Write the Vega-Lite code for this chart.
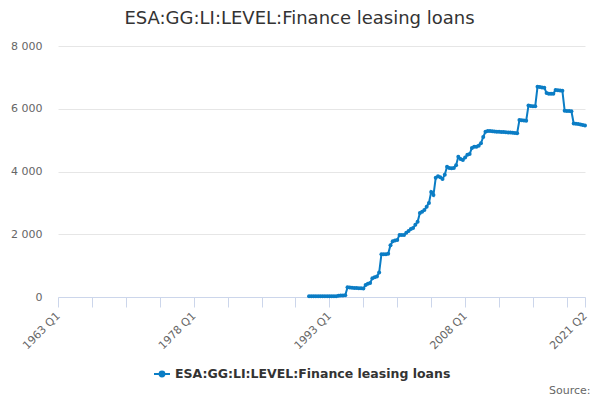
{
  "$schema": "https://vega.github.io/schema/vega-lite/v6.json",
  "width": 527,
  "height": 251,
  "autosize": "none",
  "padding": {"left": 58, "top": 46, "right": 15, "bottom": 103},
  "background": "white",

  "title": {
    "text": "ESA:GG:LI:LEVEL:Finance leasing loans",
    "font": "DejaVu Sans",
    "fontSize": 18,
    "fontWeight": "normal",
    "color": "#333333",
    "anchor": "middle",
    "dx": -22,
    "offset": 12
  },

  "data": {
    "values": [
      {"date": "1990-10-01", "value": 20},
      {"date": "1991-01-01", "value": 20}, {"date": "1991-04-01", "value": 20}, {"date": "1991-07-01", "value": 20}, {"date": "1991-10-01", "value": 20},
      {"date": "1992-01-01", "value": 20}, {"date": "1992-04-01", "value": 20}, {"date": "1992-07-01", "value": 20}, {"date": "1992-10-01", "value": 20},
      {"date": "1993-01-01", "value": 25}, {"date": "1993-04-01", "value": 25}, {"date": "1993-07-01", "value": 25}, {"date": "1993-10-01", "value": 25},
      {"date": "1994-01-01", "value": 40}, {"date": "1994-04-01", "value": 45}, {"date": "1994-07-01", "value": 50}, {"date": "1994-10-01", "value": 55},
      {"date": "1995-01-01", "value": 310}, {"date": "1995-04-01", "value": 300}, {"date": "1995-07-01", "value": 295}, {"date": "1995-10-01", "value": 290},
      {"date": "1996-01-01", "value": 285}, {"date": "1996-04-01", "value": 280}, {"date": "1996-07-01", "value": 275}, {"date": "1996-10-01", "value": 270},
      {"date": "1997-01-01", "value": 380}, {"date": "1997-04-01", "value": 420}, {"date": "1997-07-01", "value": 450}, {"date": "1997-10-01", "value": 600},
      {"date": "1998-01-01", "value": 630}, {"date": "1998-04-01", "value": 650}, {"date": "1998-07-01", "value": 780}, {"date": "1998-10-01", "value": 1360},
      {"date": "1999-01-01", "value": 1360}, {"date": "1999-04-01", "value": 1365}, {"date": "1999-07-01", "value": 1380}, {"date": "1999-10-01", "value": 1650},
      {"date": "2000-01-01", "value": 1780}, {"date": "2000-04-01", "value": 1800}, {"date": "2000-07-01", "value": 1820}, {"date": "2000-10-01", "value": 1980},
      {"date": "2001-01-01", "value": 1976}, {"date": "2001-04-01", "value": 1980}, {"date": "2001-07-01", "value": 2050}, {"date": "2001-10-01", "value": 2100},
      {"date": "2002-01-01", "value": 2170}, {"date": "2002-04-01", "value": 2200}, {"date": "2002-07-01", "value": 2300}, {"date": "2002-10-01", "value": 2400},
      {"date": "2003-01-01", "value": 2680}, {"date": "2003-04-01", "value": 2720}, {"date": "2003-07-01", "value": 2770}, {"date": "2003-10-01", "value": 2880},
      {"date": "2004-01-01", "value": 3000}, {"date": "2004-04-01", "value": 3350}, {"date": "2004-07-01", "value": 3250}, {"date": "2004-10-01", "value": 3800},
      {"date": "2005-01-01", "value": 3850}, {"date": "2005-04-01", "value": 3820}, {"date": "2005-07-01", "value": 3760}, {"date": "2005-10-01", "value": 3900},
      {"date": "2006-01-01", "value": 4150}, {"date": "2006-04-01", "value": 4110}, {"date": "2006-07-01", "value": 4100}, {"date": "2006-10-01", "value": 4110},
      {"date": "2007-01-01", "value": 4200}, {"date": "2007-04-01", "value": 4470}, {"date": "2007-07-01", "value": 4400}, {"date": "2007-10-01", "value": 4366},
      {"date": "2008-01-01", "value": 4450}, {"date": "2008-04-01", "value": 4530}, {"date": "2008-07-01", "value": 4560}, {"date": "2008-10-01", "value": 4750},
      {"date": "2009-01-01", "value": 4790}, {"date": "2009-04-01", "value": 4790}, {"date": "2009-07-01", "value": 4820}, {"date": "2009-10-01", "value": 4900},
      {"date": "2010-01-01", "value": 5100}, {"date": "2010-04-01", "value": 5268}, {"date": "2010-07-01", "value": 5290}, {"date": "2010-10-01", "value": 5290},
      {"date": "2011-01-01", "value": 5280}, {"date": "2011-04-01", "value": 5275}, {"date": "2011-07-01", "value": 5270}, {"date": "2011-10-01", "value": 5265},
      {"date": "2012-01-01", "value": 5260}, {"date": "2012-04-01", "value": 5255}, {"date": "2012-07-01", "value": 5250}, {"date": "2012-10-01", "value": 5245},
      {"date": "2013-01-01", "value": 5240}, {"date": "2013-04-01", "value": 5235}, {"date": "2013-07-01", "value": 5230}, {"date": "2013-10-01", "value": 5220},
      {"date": "2014-01-01", "value": 5640}, {"date": "2014-04-01", "value": 5630}, {"date": "2014-07-01", "value": 5625}, {"date": "2014-10-01", "value": 5620},
      {"date": "2015-01-01", "value": 6100}, {"date": "2015-04-01", "value": 6090}, {"date": "2015-07-01", "value": 6080}, {"date": "2015-10-01", "value": 6080},
      {"date": "2016-01-01", "value": 6700}, {"date": "2016-04-01", "value": 6690}, {"date": "2016-07-01", "value": 6680}, {"date": "2016-10-01", "value": 6670},
      {"date": "2017-01-01", "value": 6500}, {"date": "2017-04-01", "value": 6480}, {"date": "2017-07-01", "value": 6480}, {"date": "2017-10-01", "value": 6480},
      {"date": "2018-01-01", "value": 6600}, {"date": "2018-04-01", "value": 6590}, {"date": "2018-07-01", "value": 6580}, {"date": "2018-10-01", "value": 6570},
      {"date": "2019-01-01", "value": 5940}, {"date": "2019-04-01", "value": 5930}, {"date": "2019-07-01", "value": 5930}, {"date": "2019-10-01", "value": 5920},
      {"date": "2020-01-01", "value": 5530}, {"date": "2020-04-01", "value": 5520}, {"date": "2020-07-01", "value": 5510}, {"date": "2020-10-01", "value": 5500},
      {"date": "2021-01-01", "value": 5480}, {"date": "2021-04-01", "value": 5470}
    ]
  },

  "mark": {
    "type": "line",
    "strokeWidth": 2,
    "point": {"filled": true, "size": 16}
  },

  "encoding": {
    "x": {
      "field": "date",
      "type": "temporal",
      "scale": {
        "type": "utc",
        "domain": [
          {"year": 1963, "month": 1, "date": 1, "utc": true},
          {"year": 2021, "month": 4, "date": 1, "utc": true}
        ]
      },
      "axis": {
        "values": [
          {"year": 1963, "month": 1, "date": 1, "utc": true},
          {"year": 1966, "month": 10, "date": 1, "utc": true},
          {"year": 1970, "month": 7, "date": 1, "utc": true},
          {"year": 1974, "month": 4, "date": 1, "utc": true},
          {"year": 1978, "month": 1, "date": 1, "utc": true},
          {"year": 1981, "month": 10, "date": 1, "utc": true},
          {"year": 1985, "month": 7, "date": 1, "utc": true},
          {"year": 1989, "month": 4, "date": 1, "utc": true},
          {"year": 1993, "month": 1, "date": 1, "utc": true},
          {"year": 1996, "month": 10, "date": 1, "utc": true},
          {"year": 2000, "month": 7, "date": 1, "utc": true},
          {"year": 2004, "month": 4, "date": 1, "utc": true},
          {"year": 2008, "month": 1, "date": 1, "utc": true},
          {"year": 2011, "month": 10, "date": 1, "utc": true},
          {"year": 2015, "month": 7, "date": 1, "utc": true},
          {"year": 2019, "month": 4, "date": 1, "utc": true},
          {"year": 2021, "month": 4, "date": 1, "utc": true}
        ],
        "labelExpr": "indexof(['1963 Q1', '1978 Q1', '1993 Q1', '2008 Q1', '2021 Q2'], utcFormat(datum.value, '%Y Q%q')) >= 0 ? utcFormat(datum.value, '%Y Q%q') : ''",
        "labelAngle": -45,
        "labelAlign": "right",
        "labelBaseline": "middle",
        "labelPadding": 7,
        "labelColor": "#666666",
        "labelFontSize": 11,
        "labelFont": "DejaVu Sans",
        "labelOverlap": false,
        "labelFlush": false,
        "grid": false,
        "domainColor": "#ccd6eb",
        "tickColor": "#ccd6eb",
        "tickSize": 10,
        "title": "Source:",
        "titleAnchor": "end",
        "titleAlign": "right",
        "titleFont": "DejaVu Sans",
        "titleFontSize": 11,
        "titleFontWeight": "normal",
        "titleColor": "#666666",
        "titlePadding": 34,
        "titleX": 532
      }
    },
    "y": {
      "field": "value",
      "type": "quantitative",
      "scale": {"domain": [0, 8000], "nice": false},
      "axis": {
        "values": [0, 2000, 4000, 6000, 8000],
        "labelExpr": "replace(format(datum.value, ','), ',', ' ')",
        "labelColor": "#666666",
        "labelFontSize": 11,
        "labelFont": "DejaVu Sans",
        "labelPadding": 16,
        "domain": false,
        "ticks": false,
        "gridColor": "#e6e6e6",
        "title": null
      }
    },
    "color": {
      "datum": "ESA:GG:LI:LEVEL:Finance leasing loans",
      "scale": {"range": ["#0b7dc5"]},
      "legend": {
        "title": null,
        "orient": "none",
        "legendX": 95,
        "legendY": 319,
        "symbolType": "M-1,0H1M-0.3,0A0.3,0.3 0 1,0 0.3,0A0.3,0.3 0 1,0 -0.3,0",
        "symbolSize": 256,
        "symbolStrokeWidth": 2,
        "labelFont": "DejaVu Sans",
        "labelFontSize": 12.5,
        "labelFontWeight": "bold",
        "labelColor": "#333333",
        "labelLimit": 500
      }
    }
  },

  "config": {
    "view": {"stroke": null},
    "font": "DejaVu Sans"
  }
}
